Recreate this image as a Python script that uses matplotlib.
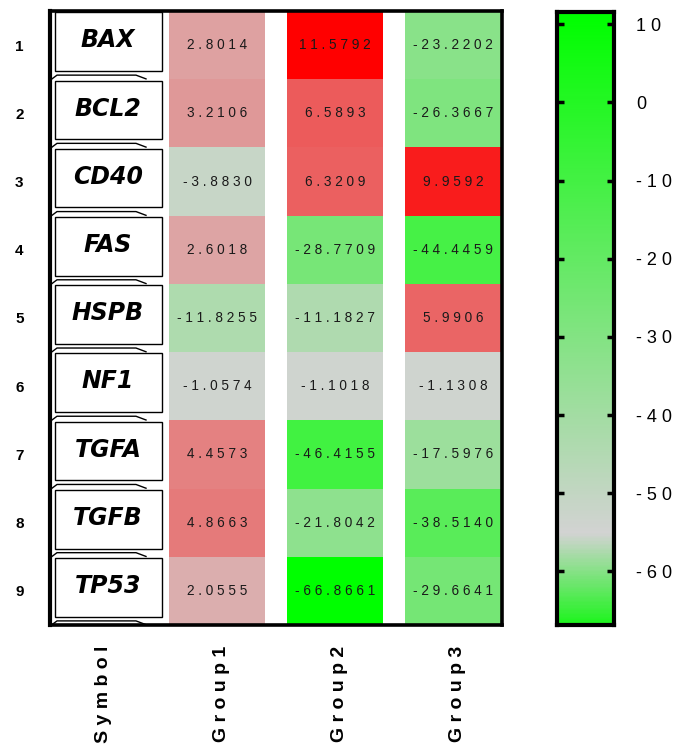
import numpy as np
import matplotlib
matplotlib.use("Agg")
import matplotlib.pyplot as plt
from matplotlib.colors import LinearSegmentedColormap, TwoSlopeNorm
from matplotlib.patches import Rectangle

# data
symbols = ["BAX", "BCL2", "CD40", "FAS", "HSPB", "NF1", "TGFA", "TGFB", "TP53"]
groups = ["Group1", "Group2", "Group3"]
group1 = [2.8014, 3.2106, -3.8830, 2.6018, -11.8255, -1.0574, 4.4573, 4.8663, 2.0555]
group2 = [11.5792, 6.5893, 6.3209, -28.7709, -11.1827, -1.1018, -46.4155, -21.8042, -66.8661]
group3 = [-23.2202, -26.3667, 9.9592, -44.4459, 5.9906, -1.1308, -17.5976, -38.5140, -29.6641]
cbar_ticks = [10, 0, -10, -20, -30, -40, -50, -60]

plt.rcParams['font.family'] = ['Liberation Sans', 'DejaVu Sans']

W, H = 682, 754


def spaced(s):
    return " ".join(list(s))


def frac(x0, y0, x1, y1):
    # pixel box (top-left origin) -> figure fraction rect
    return [x0 / W, (H - y1) / H, (x1 - x0) / W, (y1 - y0) / H]


values = np.array([group1, group2, group3]).T
vmin, vmax = values.min(), values.max()

cmap = LinearSegmentedColormap.from_list("gr", [(0, "#00ff00"), (0.5, "#d3d3d3"), (1, "#ff0000")])
norm = TwoSlopeNorm(vmin=vmin, vcenter=0, vmax=vmax)

fig = plt.figure(figsize=(W / 100, H / 100), dpi=100)
ax = fig.add_axes(frac(50, 11, 502, 625))

nrows = len(symbols)
col_left = [119, 237, 355]
col_w = 96
ax.set_xlim(0, 452)
ax.set_ylim(nrows, 0)

rows = np.arange(nrows)
for j in range(len(groups)):
    vals = values[:, j]
    ax.barh(rows + 0.5, col_w, left=col_left[j], height=1.0,
            color=cmap(norm(vals)), edgecolor="none")
    for i, v in enumerate(vals):
        ax.text(col_left[j] + col_w / 2, i + 0.5, spaced(f"{v:.4f}"),
                ha="center", va="center", fontsize=9.8, color="#1a1a1a")

# gene symbol boxes
for i, s in enumerate(symbols):
    ax.add_patch(Rectangle((5, i + 0.02), 107, 0.86, facecolor="white",
                           edgecolor="black", linewidth=1.0))
    ax.plot([2, 7, 86, 96], [i + 0.995, i + 0.94, i + 0.94, i + 0.995],
            color="black", linewidth=1.0)
    ax.text(58, i + 0.43, s, ha="center", va="center", fontsize=17,
            fontweight="bold", fontstyle="italic", family="DejaVu Sans")

ax.set_yticks(rows + 0.5)
ax.set_yticklabels([str(i + 1) for i in rows], fontsize=11, fontweight="bold")
ax.set_xticks([54, 171, 289, 407])
ax.set_xticklabels([spaced("Symbol")] + [spaced(g) for g in groups],
                   rotation=90, fontsize=14, fontweight="bold", va="top")
ax.tick_params(axis="y", length=0, pad=19)
ax.tick_params(axis="x", length=0, pad=15)
for side, lw in [("left", 3.0), ("top", 2.6), ("right", 2.6), ("bottom", 2.6)]:
    ax.spines[side].set_linewidth(lw)

# colour bar (gradient as drawn in the reference)
gpos = vmax / (vmax - vmin)  # grey band sits this far up from the bottom
bar_cmap = LinearSegmentedColormap.from_list(
    "bar", [(0, "#1ff51f"), (gpos, "#d3d3d3"), (1, "#00ff00")])
cax = fig.add_axes(frac(557, 12, 614, 625))
grad = np.linspace(vmin, vmax, 400).reshape(-1, 1)
cax.imshow(grad, aspect="auto", origin="lower", cmap=bar_cmap,
           extent=[0, 1, vmin, vmax])
cax.set_xlim(0, 1)
cax.set_ylim(vmin, vmax)
cax.set_xticks([])
cax.set_yticks(cbar_ticks)
cax.set_yticklabels([spaced(str(t)) for t in cbar_ticks], fontsize=13)
cax.yaxis.tick_right()
cax.tick_params(axis="y", which="both", direction="in", left=True, right=True,
                length=5, width=2.5, pad=16)
for sp in cax.spines.values():
    sp.set_linewidth(3)

fig.savefig("out.png", dpi=100)
